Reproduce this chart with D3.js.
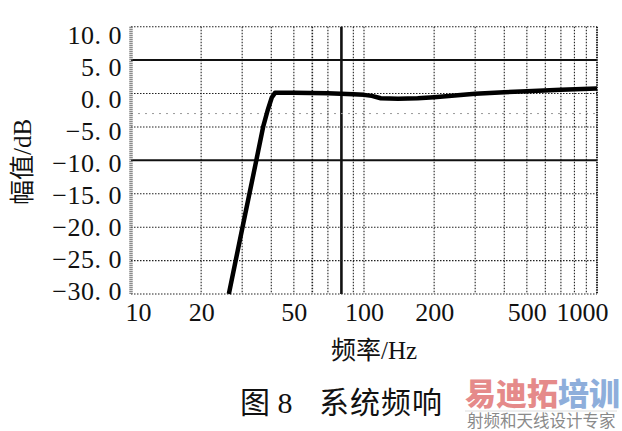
<!DOCTYPE html>
<html>
<head>
<meta charset="utf-8">
<script src="https://cdn.jsdelivr.net/npm/d3@7"></script>
<style>
  body { margin: 0; background: #fff; }
  text { font-family: "Liberation Serif", "Noto Sans CJK SC", serif; }
</style>
</head>
<body>
<script>
// system frequency response
var freq = [26.3, 30.1, 34.5, 36.9, 38.6, 40.2, 41.5, 50, 70, 90, 100, 108, 118, 140, 170, 200, 300, 400, 500, 700, 1000];
var gain = [-30, -20, -10, -5, -2.5, -0.6, 0.1, 0.1, 0.05, -0.1, -0.2, -0.35, -0.7, -0.8, -0.7, -0.55, -0.05, 0.2, 0.35, 0.55, 0.75];

var xLabels = [10, 20, 50, 100, 200, 500, 1000];
var xGrid = [20, 30, 40, 50, 60, 70, 90, 100, 200, 300, 400, 500, 600, 700, 800, 900];
var yTicks = [10, 5, 0, -5, -10, -15, -20, -25, -30];
var ySolid = [5, -10];
var yFaint = [-3];

var W = 622, H = 431;

var svg = d3.select("body").append("svg")
    .attr("width", W)
    .attr("height", H);

svg.append("rect").attr("width", W).attr("height", H).attr("fill", "#fff");

//scales
var x = d3.scaleLog().domain([10, 1000]).range([131, 597]);
var y = d3.scaleLinear().domain([10, -30]).range([26.7, 294]);
// the printed tick labels sit on a slightly tighter pitch than the grid
var yLab = d3.scaleLinear().domain([10, -30]).range([35, 291]);

var g = svg.append("g");

// vertical grid
g.selectAll(".vg").data(xGrid).enter().append("line")
    .attr("x1", d => x(d)).attr("x2", d => x(d))
    .attr("y1", y(10)).attr("y2", y(-30))
    .attr("stroke", "#222")
    .attr("stroke-width", d => d == 60 ? 1.6 : 1.1)
    .attr("stroke-dasharray", "1.5,1.5");

// the heavy line at 80 Hz
g.append("line")
    .attr("x1", x(80)).attr("x2", x(80))
    .attr("y1", y(10)).attr("y2", y(-30))
    .attr("stroke", "#111").attr("stroke-width", 2.6);

// horizontal grid
g.selectAll(".hg").data(yTicks.filter(d => ySolid.indexOf(d) < 0)).enter().append("line")
    .attr("x1", x(10)).attr("x2", x(1000))
    .attr("y1", d => y(d)).attr("y2", d => y(d))
    .attr("stroke", "#222")
    .attr("stroke-width", 1.1)
    .attr("stroke-dasharray", "1.5,1.5");

g.selectAll(".hf").data(yFaint).enter().append("line")
    .attr("x1", x(10)).attr("x2", x(1000))
    .attr("y1", d => y(d)).attr("y2", d => y(d))
    .attr("stroke", "#999")
    .attr("stroke-width", 1)
    .attr("stroke-dasharray", "2,5");

g.selectAll(".hs").data(ySolid).enter().append("line")
    .attr("x1", x(10)).attr("x2", x(1000))
    .attr("y1", d => y(d)).attr("y2", d => y(d))
    .attr("stroke", "#111")
    .attr("stroke-width", 2);

// frame sides
g.append("line")
    .attr("x1", x(10)).attr("x2", x(10))
    .attr("y1", y(10)).attr("y2", y(-30))
    .attr("stroke", "#666").attr("stroke-width", 3.5)
    .attr("stroke-dasharray", "1,1");
g.append("line")
    .attr("x1", x(1000)).attr("x2", x(1000))
    .attr("y1", y(10)).attr("y2", y(-30))
    .attr("stroke", "#222").attr("stroke-width", 2)
    .attr("stroke-dasharray", "1.5,1");

// response curve
var line = d3.line()
    .x((d, i) => x(freq[i]))
    .y(d => y(d));

g.append("path")
    .datum(gain)
    .attr("d", line)
    .attr("fill", "none")
    .attr("stroke", "#000")
    .attr("stroke-width", 4.5)
    .attr("stroke-linejoin", "round");

// y axis labels
var yAxis = d3.axisLeft(yLab)
    .tickValues(yTicks)
    .tickSize(0)
    .tickPadding(0)
    .tickFormat(d => d3.format(".1f")(d).replace(".", ". "));

svg.append("g")
    .attr("transform", "translate(122,0)")
    .call(yAxis)
    .call(a => a.select(".domain").remove())
    .selectAll("text")
    .attr("font-size", 26)
    .attr("fill", "#111")
    .attr("letter-spacing", 0.5);

// x axis labels
var xAxis = d3.axisBottom(x)
    .tickValues(xLabels)
    .tickSize(0)
    .tickPadding(0)
    .tickFormat(d3.format("d"));

svg.append("g")
    .attr("transform", "translate(0,303)")
    .call(xAxis)
    .call(a => a.select(".domain").remove())
    .selectAll("text")
    .attr("font-size", 26)
    .attr("fill", "#111")
    .attr("dx", d => d == 10 ? 7 : d == 1000 ? -15 : 0);

// axis titles
svg.append("text")
    .attr("transform", "translate(31,162) rotate(-90)")
    .attr("text-anchor", "middle")
    .attr("font-size", 25)
    .attr("fill", "#111")
    .text("幅值/dB");

svg.append("text")
    .attr("x", 374)
    .attr("y", 359)
    .attr("text-anchor", "middle")
    .attr("font-size", 25)
    .attr("fill", "#111")
    .text("频率/Hz");

// caption
var cap = svg.append("text")
    .attr("y", 413)
    .attr("font-size", 30)
    .attr("fill", "#111");
cap.append("tspan").attr("x", 240).text("图 8");
cap.append("tspan").attr("x", 319).attr("letter-spacing", 1).text("系统频响");

// watermark
var wm = svg.append("text")
    .attr("x", 465)
    .attr("y", 405)
    .attr("font-family", "Noto Sans CJK SC")
    .attr("font-weight", 900)
    .attr("font-size", 31);
wm.append("tspan").attr("fill", "#e58a8a").text("易迪拓");
wm.append("tspan").attr("fill", "#8eaedb").text("培训");

svg.append("line")
    .attr("x1", 465).attr("x2", 617)
    .attr("y1", 411).attr("y2", 411)
    .attr("stroke", "#ddd").attr("stroke-width", 1);

svg.append("text")
    .attr("x", 467)
    .attr("y", 427)
    .attr("font-family", "Noto Sans CJK SC")
    .attr("font-size", 16.5)
    .attr("fill", "#8a8a8a")
    .text("射频和天线设计专家");
</script>
</body>
</html>
